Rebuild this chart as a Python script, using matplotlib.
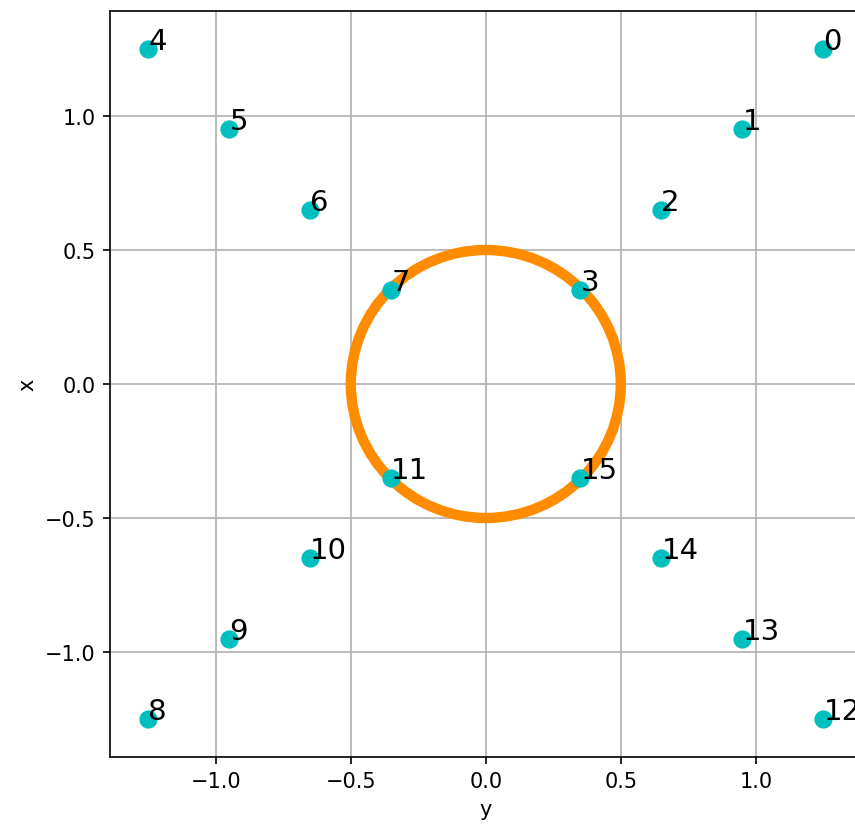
import matplotlib
matplotlib.use("Agg")
import matplotlib.pyplot as plt
from matplotlib.patches import Circle

# point coordinates (horizontal axis is "y", vertical axis is "x")
y_vals = [1.25, 0.95, 0.65, 0.35,
          -1.25, -0.95, -0.65, -0.35,
          -1.25, -0.95, -0.65, -0.35,
          1.25, 0.95, 0.65, 0.35]
x_vals = [1.25, 0.95, 0.65, 0.35,
          1.25, 0.95, 0.65, 0.35,
          -1.25, -0.95, -0.65, -0.35,
          -1.25, -0.95, -0.65, -0.35]
labels = [str(i) for i in range(16)]
circle_radius = 0.5

fig = plt.figure(figsize=(5.7, 5.513), dpi=150)
ax = fig.add_axes([0.1292, 0.084, 0.878, 0.901])

ax.add_patch(Circle((0, 0), circle_radius, fill=False, edgecolor="darkorange", linewidth=5, zorder=2))
ax.scatter(y_vals, x_vals, color="c", s=60, zorder=3)
for yv, xv, lab in zip(y_vals, x_vals, labels):
    ax.text(yv, xv, lab, fontsize=14, zorder=4)

ax.set_xlim(-1.39, 1.39)
ax.set_ylim(-1.39, 1.39)
ax.set_xticks([-1.0, -0.5, 0.0, 0.5, 1.0])
ax.set_yticks([-1.0, -0.5, 0.0, 0.5, 1.0])
ax.set_xlabel("y")
ax.set_ylabel("x")
ax.grid(True)
ax.set_axisbelow(True)

fig.savefig("out.png", dpi=150)
